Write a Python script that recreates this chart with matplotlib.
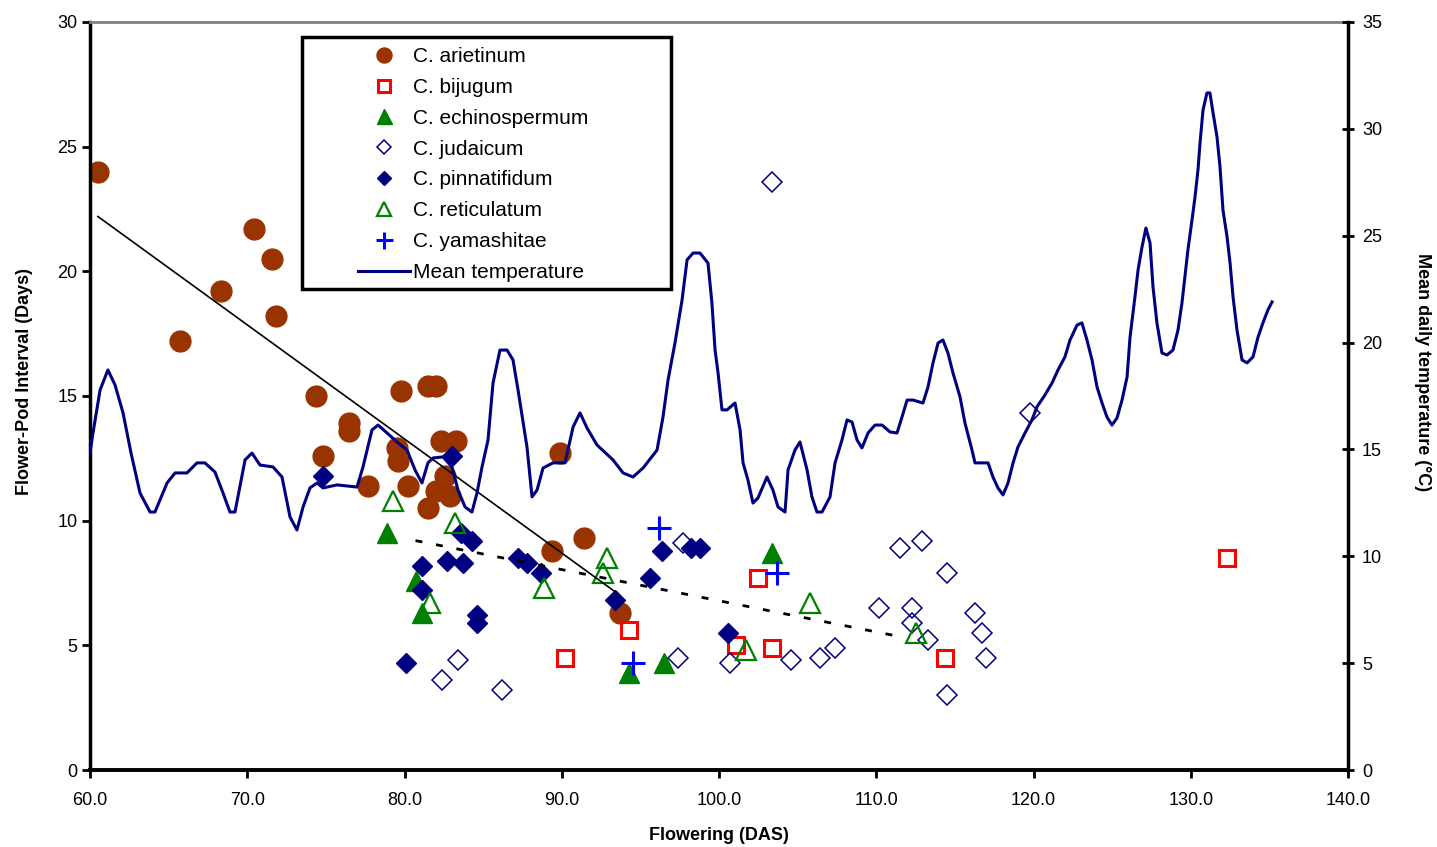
import matplotlib
matplotlib.use('Agg')
import matplotlib.pyplot as plt
from matplotlib.patches import Rectangle

plt.rcParams['font.family'] = ['Liberation Sans', 'DejaVu Sans']

# flower-pod interval per accession (DAS, days)
arietinum_x = [60.5, 65.7, 68.3, 70.4, 71.6, 71.8, 74.4, 74.8, 76.5, 76.5, 77.7, 79.8, 81.5, 82.0,
               79.5, 79.6, 80.2, 82.3, 83.3, 82.0, 82.6, 81.5, 82.9, 89.9, 89.4, 91.4, 93.7]
arietinum_y = [24.0, 17.2, 19.2, 21.7, 20.5, 18.2, 15.0, 12.6, 13.9, 13.6, 11.4, 15.2, 15.4, 15.4,
               12.9, 12.4, 11.4, 13.2, 13.2, 11.2, 11.8, 10.5, 11.0, 12.7, 8.8, 9.3, 6.3]

bijugum_x = [90.2, 94.3, 101.1, 102.5, 103.4, 114.4, 132.3]
bijugum_y = [4.5, 5.6, 5.0, 7.7, 4.9, 4.5, 8.5]

echino_x = [78.9, 80.7, 81.1, 94.3, 96.5, 103.4]
echino_y = [9.5, 7.6, 6.3, 3.9, 4.3, 8.7]

judaicum_x = [103.4, 119.8, 82.4, 83.4, 86.2, 97.7, 97.4, 100.7, 104.6, 106.4, 107.4, 110.2,
              112.3, 112.3, 113.3, 111.5, 112.9, 114.5, 116.3, 116.7, 117.0, 114.5]
judaicum_y = [23.6, 14.3, 3.6, 4.4, 3.2, 9.1, 4.5, 4.3, 4.4, 4.5, 4.9, 6.5,
              6.5, 5.9, 5.2, 8.9, 9.2, 7.9, 6.3, 5.5, 4.5, 3.0]

pinna_x = [74.8, 83.0, 83.6, 84.3, 81.1, 82.7, 83.7, 81.1, 84.6, 84.6, 80.1, 87.2, 87.8, 88.7,
           93.4, 95.6, 96.4, 98.2, 98.8, 100.6]
pinna_y = [11.8, 12.6, 9.5, 9.2, 8.2, 8.4, 8.3, 7.2, 6.2, 5.9, 4.3, 8.5, 8.3, 7.9,
           6.8, 7.7, 8.8, 8.9, 8.9, 5.5]

retic_x = [79.3, 83.2, 81.6, 88.9, 92.9, 92.6, 105.8, 101.7, 112.5]
retic_y = [10.8, 9.9, 6.7, 7.3, 8.5, 7.9, 6.7, 4.8, 5.5]

yama_x = [96.2, 103.7, 94.5]
yama_y = [9.7, 7.9, 4.3]

# trend lines
trend1_x = [60.5, 93.5]
trend1_y = [22.2, 7.1]
trend2_x = [80.7, 111.5]
trend2_y = [9.2, 5.35]

# mean daily temperature (C)
temp_das = [60.0, 60.19, 60.64, 61.14, 61.59, 62.10, 62.61, 63.18, 63.82, 64.13, 64.90, 65.41,
            66.17, 66.80, 67.31, 67.95, 68.46, 68.90, 69.22, 69.86, 70.30, 70.81, 71.64, 72.21,
            72.72, 73.16, 73.55, 73.99, 74.44, 74.82, 75.71, 76.98, 77.36, 77.93, 78.32, 78.89,
            79.52, 80.16, 80.67, 81.11, 81.49, 81.81, 82.45, 83.02, 83.40, 83.85, 84.29, 84.61,
            84.93, 85.31, 85.63, 86.07, 86.52, 86.90, 87.22, 87.79, 88.11, 88.43, 88.81, 89.44,
            90.21, 90.72, 91.16, 91.61, 92.24, 93.26, 93.90, 94.53, 95.17, 96.06, 96.44, 96.76,
            97.20, 97.65, 97.97, 98.35, 98.79, 99.30, 99.55, 99.75, 99.94, 100.19, 100.51, 101.02,
            101.34, 101.53, 101.84, 102.16, 102.48, 103.05, 103.43, 103.75, 104.20, 104.39, 104.83,
            105.15, 105.60, 105.91, 106.23, 106.55, 107.06, 107.38, 107.82, 108.14, 108.46, 108.78,
            109.09, 109.48, 109.92, 110.37, 110.87, 111.32, 111.64, 111.96, 112.34, 112.97, 113.29,
            113.61, 113.93, 114.24, 114.56, 114.88, 115.33, 115.64, 116.09, 116.28, 117.11, 117.42,
            117.74, 118.06, 118.38, 118.70, 119.01, 119.46, 119.90, 120.22, 120.73, 121.18, 121.56,
            122.00, 122.32, 122.77, 123.08, 123.40, 123.72, 124.04, 124.36, 124.67, 124.99, 125.31,
            125.63, 125.95, 126.14, 126.45, 126.65, 126.90, 127.15, 127.41, 127.60, 127.85, 128.17,
            128.49, 128.87, 129.19, 129.44, 129.63, 129.82, 130.08, 130.27, 130.46, 130.59, 130.78,
            131.03, 131.22, 131.42, 131.67, 131.86, 132.05, 132.31, 132.50, 132.69, 132.94, 133.26,
            133.58, 133.96, 134.28, 134.59, 134.91, 135.17]
temp_c = [14.83, 15.77, 17.78, 18.72, 18.02, 16.71, 14.83, 12.96, 12.07, 12.07, 13.43, 13.90,
          13.90, 14.37, 14.37, 13.94, 12.96, 12.07, 12.07, 14.51, 14.83, 14.27, 14.18, 13.71,
          11.84, 11.23, 12.31, 13.20, 13.43, 13.20, 13.34, 13.24, 14.18, 15.91, 16.14, 15.77,
          15.35, 14.97, 14.04, 13.43, 14.37, 14.60, 14.65, 14.18, 13.10, 12.31, 12.07, 12.96,
          14.18, 15.44, 18.11, 19.65, 19.65, 19.19, 17.78, 15.11, 12.78, 13.10, 14.13, 14.37,
          14.37, 16.05, 16.71, 16.00, 15.21, 14.51, 13.90, 13.71, 14.13, 14.97, 16.52, 18.25,
          19.98, 21.99, 23.87, 24.19, 24.19, 23.72, 21.85, 19.65, 18.58, 16.85, 16.85, 17.17,
          15.91, 14.37, 13.57, 12.49, 12.73, 13.71, 13.10, 12.31, 12.07, 14.04, 14.97,
          15.35, 14.04, 12.78, 12.07, 12.07, 12.78, 14.37, 15.44, 16.38, 16.28, 15.44,
          15.07, 15.77, 16.14, 16.14, 15.82, 15.77, 16.52, 17.31, 17.31, 17.17, 17.92,
          19.05, 19.98, 20.12, 19.51, 18.58, 17.45, 16.24, 14.97, 14.37, 14.37, 13.71,
          13.20, 12.87, 13.43, 14.37, 15.11, 15.77, 16.38, 16.99, 17.55, 18.11, 18.72,
          19.33, 20.12, 20.82, 20.92, 20.12, 19.19, 17.92, 17.17, 16.52, 16.14, 16.47,
          17.31, 18.39, 20.26, 22.13, 23.40, 24.47, 25.36, 24.66, 22.60, 20.92, 19.51,
          19.42, 19.65, 20.59, 21.85, 23.07, 24.33, 25.74, 26.81, 28.08, 29.34, 30.88,
          31.68, 31.68, 30.74, 29.62, 28.22, 26.20, 24.94, 23.72, 22.13, 20.59, 19.19,
          19.05, 19.33, 20.26, 20.92, 21.53, 21.90]

x_ticks = [60, 70, 80, 90, 100, 110, 120, 130, 140]

fig = plt.figure(figsize=(14.37, 8.47), dpi=100)
ax = fig.add_axes([90 / 1437, 1 - 770 / 847, 1258 / 1437, 748 / 847])
ax2 = ax.twinx()

brown = '#993300'
navy = '#000080'
green = '#008000'

ax.plot(arietinum_x, arietinum_y, 'o', ms=15, color=brown, mec=brown, label='C. arietinum')
ax.plot(bijugum_x, bijugum_y, 's', ms=12, mfc='none', mec='#ff0000', mew=2.2, label='C. bijugum')
ax.plot(echino_x, echino_y, '^', ms=15, color=green, label='C. echinospermum')
ax.plot(judaicum_x, judaicum_y, 'D', ms=10, mfc='none', mec=navy, mew=1.1, label='C. judaicum')
ax.plot(pinna_x, pinna_y, 'D', ms=10, color=navy, label='C. pinnatifidum')
ax.plot(retic_x, retic_y, '^', ms=14, mfc='none', mec=green, mew=1.6, label='C. reticulatum')
ax.plot(yama_x, yama_y, '+', ms=17, mec='#0000ff', mew=2.2, label='C. yamashitae')
ax.plot(trend1_x, trend1_y, '-', color='black', lw=1.2, zorder=3)
ax.plot(trend2_x, trend2_y, color='black', lw=2, linestyle=(0, (2.5, 5)), zorder=3)

ax2.plot(temp_das, temp_c, '-', color=navy, lw=2.2, label='Mean temperature')

ax.set_xlim(60, 140)
ax.set_ylim(0, 30)
ax2.set_ylim(0, 35)
ax.set_xticks(x_ticks)
ax.set_xticklabels(['%.1f' % t for t in x_ticks])
ax.set_yticks(range(0, 31, 5))
ax2.set_yticks(range(0, 36, 5))

for a in (ax, ax2):
    for s in a.spines.values():
        s.set_visible(False)
ax.spines['left'].set_visible(True)
ax.spines['bottom'].set_visible(True)
ax.spines['top'].set_visible(True)
ax2.spines['right'].set_visible(True)
ax.spines['left'].set_linewidth(2.5)
ax.spines['bottom'].set_linewidth(2.8)
ax.spines['top'].set_linewidth(2)
ax.spines['top'].set_color('#808080')
ax2.spines['right'].set_linewidth(2.5)

ax.tick_params(axis='both', direction='out', length=6, width=2, labelsize=13)
ax.tick_params(axis='x', pad=10)
ax.tick_params(axis='y', pad=3)
ax2.tick_params(axis='y', direction='inout', length=8, width=2, labelsize=13, pad=6)

ax.set_xlabel('Flowering (DAS)', fontsize=13, fontweight='bold', va='center')
ax.xaxis.set_label_coords(0.5, -0.087)
ax.set_ylabel('Flower-Pod Interval (Days)', fontsize=13, fontweight='bold', va='center')
ax.yaxis.set_label_coords(-0.052, 0.52)
ax2.set_ylabel('Mean daily temperature (°C)', fontsize=13, fontweight='bold', rotation=270, va='center')
ax2.yaxis.set_label_coords(1.0596, 0.532)

# legend: frame drawn separately, entries from the plotted series
box = Rectangle((0.1685, 0.643), 0.2933, 0.337, transform=ax2.transAxes, facecolor='white',
                edgecolor='black', lw=2.5, zorder=4)
ax2.add_patch(box)
h1, l1 = ax.get_legend_handles_labels()
h2, l2 = ax2.get_legend_handles_labels()
leg = ax2.legend(h1 + h2, l1 + l2, loc='upper left', bbox_to_anchor=(0.213, 0.9666),
                 frameon=False, fontsize=15, borderpad=0, borderaxespad=0, handlelength=2.5,
                 handletextpad=0.15, labelspacing=0.57, markerscale=0.72)
leg.set_zorder(5)

fig.savefig('out.png', dpi=100)
